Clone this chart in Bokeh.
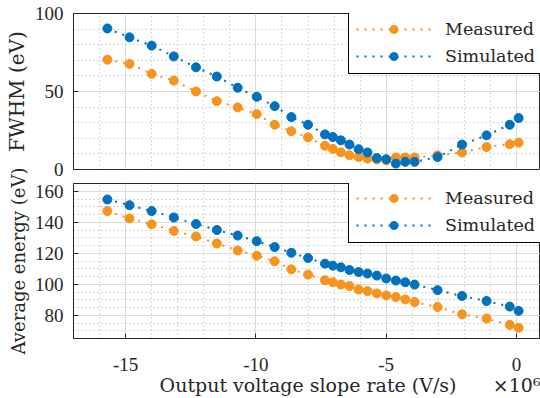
from bokeh.plotting import figure
from bokeh.layouts import column
from bokeh.models import (Legend, LegendItem, SingleIntervalTicker, Range1d, LinearAxis,
                          FixedTicker, CustomJSTickFormatter)
from bokeh.embed import file_html
from bokeh.resources import INLINE

# ---------------- data ----------------
slope_rate = [-15.7, -14.85, -14.0, -13.15, -12.3, -11.5, -10.7, -9.97, -9.28, -8.64,
              -8.0, -7.35, -7.05, -6.74, -6.41, -6.06, -5.72, -5.36, -5.0, -4.63,
              -4.27, -3.91, -3.03, -2.09, -1.15, -0.26, 0.08]
fwhm_measured = [70.4, 67.7, 61.3, 57.0, 50.0, 43.8, 39.8, 35.5, 28.7, 24.5,
                 20.6, 15.3, 13.2, 11.0, 9.1, 8.0, 7.0, 6.4, 5.9, 7.7,
                 7.7, 7.7, 9.1, 10.9, 14.4, 16.2, 17.2]
fwhm_simulated = [90.4, 84.7, 79.4, 72.5, 65.5, 59.6, 52.4, 46.6, 40.6, 33.6,
                  28.7, 22.5, 20.8, 18.7, 16.0, 13.0, 10.9, 7.4, 6.6, 3.8,
                  4.9, 4.9, 8.0, 16.0, 21.9, 28.7, 33.0]
energy_measured = [147.2, 142.5, 138.7, 134.4, 130.8, 126.3, 121.8, 118.4, 114.8, 109.6,
                   106.2, 102.6, 101.3, 99.8, 98.8, 96.6, 95.6, 94.1, 92.8, 91.7,
                   90.2, 88.5, 85.3, 80.6, 77.9, 73.8, 71.9]
energy_simulated = [154.7, 151.0, 147.2, 143.1, 138.9, 135.0, 131.4, 127.8, 124.0, 120.3,
                    116.9, 113.3, 112.0, 110.9, 109.2, 107.9, 106.9, 105.6, 103.7, 102.4,
                    101.3, 99.8, 96.2, 92.4, 89.2, 85.6, 82.8]
series_labels = ["Measured", "Simulated"]
x_label = "Output voltage slope rate (V/s)"
x_scale_text = "\u00d710\u2076"
y_labels = ["FWHM (eV)", "Average energy (eV)"]

ORANGE = "#F7941D"
BLUE = "#0072BD"
DARK = "#262626"
SERIF = "DejaVu Serif"
TICKFONT = "Liberation Serif"
FMT = "return tick.toFixed(0);"


def style(p, y_interval, y_minor, ylabel, ylabel_size):
    p.xaxis.ticker = SingleIntervalTicker(interval=5, num_minor_ticks=5)
    p.yaxis.ticker = SingleIntervalTicker(interval=y_interval, num_minor_ticks=y_minor)
    for ax in (p.xaxis, p.yaxis):
        ax.formatter = CustomJSTickFormatter(code=FMT)
        ax.axis_line_color = DARK
        ax.major_tick_line_color = DARK
        ax.major_tick_in = 5
        ax.major_tick_out = 0
        ax.minor_tick_line_color = None
        ax.major_label_text_font = TICKFONT
        ax.major_label_text_font_size = "19px"
        ax.major_label_text_color = DARK
        ax.axis_label_text_font = SERIF
        ax.axis_label_text_font_style = "normal"
        ax.axis_label_text_color = DARK
    p.yaxis.major_label_standoff = 6
    p.yaxis.axis_label = ylabel
    p.yaxis.axis_label_text_font_size = ylabel_size
    p.yaxis.axis_label_standoff = 3
    for g in (p.xgrid, p.ygrid):
        g.grid_line_color = "#DCDCDC"
        g.grid_line_width = 1
        g.minor_grid_line_color = "#B0B0B0"
        g.minor_grid_line_dash = "1 3"
        g.minor_grid_line_width = 1
    p.outline_line_color = DARK
    p.outline_line_width = 1
    p.background_fill_color = "white"


def add_series(p, x, ym, ys, frame_h):
    items = []
    for y, c, lab in ((ym, ORANGE, series_labels[0]), (ys, BLUE, series_labels[1])):
        rl = p.line(x, y, line_color=c, line_width=2, line_dash="2 6")
        rs = p.scatter(x, y, size=9, marker="circle", fill_color=c, line_color=c)
        items.append(LegendItem(label=lab, renderers=[rl, rs]))
    leg = Legend(items=items, location=(275, frame_h - 61), margin=0, padding=7, spacing=7,
                 glyph_width=75, glyph_height=20, label_height=20, label_standoff=14,
                 border_line_color="black", border_line_width=1, border_line_alpha=1,
                 background_fill_color="white", background_fill_alpha=1,
                 label_text_font=SERIF, label_text_font_size="17.5px",
                 label_text_color=DARK)
    p.add_layout(leg)


# ---------------- top panel ----------------
top = figure(width=540, height=183, output_backend="svg", toolbar_location=None,
             x_range=Range1d(-17, 0.92), y_range=Range1d(0, 100),
             min_border_left=73, min_border_right=0, min_border_top=13, min_border_bottom=14)
style(top, 50, 5, y_labels[0], "20px")
top.xaxis.visible = False
top.border_fill_color = "white"
add_series(top, slope_rate, fwhm_measured, fwhm_simulated, 156)

# ---------------- bottom panel ----------------
bot = figure(width=540, height=238, output_backend="svg", toolbar_location=None,
             x_range=top.x_range, y_range=Range1d(65, 165),
             min_border_left=73, min_border_right=0, min_border_top=23, min_border_bottom=59,
             margin=(-23, 0, 0, 0))
style(bot, 20, 4, y_labels[1], "18px")
bot.border_fill_alpha = 0
bot.xaxis.major_label_standoff = 15

# second row under the tick labels: axis title (centred) and the x10^6 multiplier
title_axis = LinearAxis(ticker=FixedTicker(ticks=[-8, 0.1]),
                        major_label_overrides={-8: x_label, 0.1: x_scale_text},
                        axis_line_color=None, major_tick_line_color=None,
                        minor_tick_line_color=None, major_tick_in=0, major_tick_out=0,
                        major_label_standoff=0, major_label_text_font=SERIF,
                        major_label_text_font_size="19px", major_label_text_color=DARK)
bot.add_layout(title_axis, "below")

add_series(bot, slope_rate, energy_measured, energy_simulated, 156)

layout = column(top, bot, spacing=0)
open("out.html", "w").write(file_html(layout, INLINE))
